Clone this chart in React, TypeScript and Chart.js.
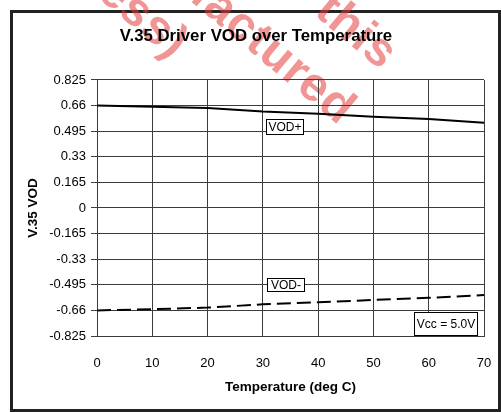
import React, { useEffect, useRef } from "react";
import { Chart, registerables } from "chart.js";

Chart.register(...registerables);

const temps = [0, 10, 20, 30, 40, 50, 60, 70];
const vodPlus = [0.66, 0.652, 0.645, 0.621, 0.607, 0.588, 0.573, 0.55];
const vodMinus = [-0.66, -0.652, -0.642, -0.621, -0.608, -0.593, -0.579, -0.561];
const yTicks = [0.825, 0.66, 0.495, 0.33, 0.165, 0, -0.165, -0.33, -0.495, -0.66, -0.825];
const xTicks = [0, 10, 20, 30, 40, 50, 60, 70];
const seriesNames = ["VOD+", "VOD-"];
const noteText = "Vcc = 5.0V";
const watermarkLines = ["Manufactured", "this", "(Process)"];

const FONT = "'Liberation Sans', Arial, Helvetica, sans-serif";
const GRID = "#3c3c3c";

const boxLabels = {
  id: "boxLabels",
  afterDatasetsDraw(chart: any) {
    const { ctx, scales } = chart;
    const xs = scales.x;
    const ys = scales.y;
    const items = [
      { text: seriesNames[0], x: 30.57, y: 0.5736, w: 37, h: 15 },
      { text: seriesNames[1], x: 30.75, y: -0.451, w: 37, h: 13 },
      { text: noteText, x: 57.33, y: -0.672, w: 63, h: 23 },
    ];
    ctx.save();
    ctx.font = `12px ${FONT}`;
    ctx.textBaseline = "middle";
    ctx.textAlign = "center";
    for (const it of items) {
      const left = Math.round(xs.getPixelForValue(it.x));
      const top = Math.round(ys.getPixelForValue(it.y));
      ctx.fillStyle = "#fff";
      ctx.fillRect(left, top, it.w, it.h);
      ctx.strokeStyle = "#000";
      ctx.lineWidth = 1;
      ctx.strokeRect(left + 0.5, top + 0.5, it.w, it.h);
      ctx.fillStyle = "#000";
      ctx.fillText(it.text, left + it.w / 2 + 0.5, top + it.h / 2 + 1);
    }
    ctx.restore();
  },
};

const watermark = {
  id: "watermark",
  beforeDraw(chart: any) {
    const { ctx } = chart;
    const ang = (40 * Math.PI) / 180;
    const anchors = [
      [348, 116],
      [390, 61],
      [181, 50],
    ];
    ctx.save();
    ctx.fillStyle = "rgba(228, 60, 60, 0.55)";
    ctx.font = `bold 48px ${FONT}`;
    try {
      (ctx as any).letterSpacing = "1px";
    } catch (e) {}
    ctx.textAlign = "right";
    ctx.textBaseline = "middle";
    watermarkLines.forEach((t, i) => {
      ctx.save();
      ctx.translate(anchors[i][0], anchors[i][1]);
      ctx.rotate(ang);
      ctx.fillText(t, 0, 0);
      ctx.restore();
    });
    try {
      (ctx as any).letterSpacing = "0px";
    } catch (e) {}
    ctx.restore();
  },
};

export default function App() {
  const ref = useRef<HTMLCanvasElement | null>(null);

  useEffect(() => {
    if (!ref.current) return;
    const chart = new Chart(ref.current, {
      type: "scatter",
      data: {
        datasets: [
          {
            label: seriesNames[0],
            data: temps.map((t, i) => ({ x: t, y: vodPlus[i] })),
            showLine: true,
            borderColor: "#000",
            borderWidth: 2,
            pointRadius: 0,
            tension: 0,
          },
          {
            label: seriesNames[1],
            data: temps.map((t, i) => ({ x: t, y: vodMinus[i] })),
            showLine: true,
            borderColor: "#000",
            borderWidth: 2,
            borderDash: [14, 6],
            pointRadius: 0,
            tension: 0,
          },
        ],
      },
      options: {
        animation: false,
        responsive: false,
        maintainAspectRatio: false,
        layout: { padding: { left: 19, top: 0, right: 8, bottom: 0 } },
        plugins: {
          legend: { display: false },
          tooltip: { enabled: false },
          title: {
            display: true,
            text: "V.35 Driver VOD over Temperature",
            color: "#000",
            font: { family: FONT, size: 16.8, weight: "bold" },
            padding: { top: 26, bottom: 33.8 },
          },
        },
        scales: {
          x: {
            type: "linear",
            min: 0,
            max: 70,
            afterBuildTicks: (s: any) => {
              s.ticks = xTicks.map((v) => ({ value: v }));
            },
            afterFit: (s: any) => {
              s.height = 76;
              s.paddingLeft = 0;
              s.paddingRight = 17;
            },
            ticks: {
              color: "#000",
              font: { family: FONT, size: 13 },
              padding: 19.5,
              maxRotation: 0,
              callback: (v: any) => String(v),
            },
            grid: { color: GRID, lineWidth: 1, drawTicks: false },
            border: { color: GRID, width: 1 },
            title: {
              display: true,
              text: "Temperature (deg C)",
              color: "#000",
              font: { family: FONT, size: 13.5, weight: "bold" },
              padding: { top: 0, bottom: 16.5 },
            },
          },
          y: {
            type: "linear",
            min: -0.825,
            max: 0.825,
            afterBuildTicks: (s: any) => {
              s.ticks = yTicks.map((v) => ({ value: v }));
            },
            afterFit: (s: any) => {
              s.width = 78;
            },
            ticks: {
              color: "#000",
              font: { family: FONT, size: 13 },
              padding: 5,
              callback: (v: any) => String(Math.round(Number(v) * 1000) / 1000),
            },
            grid: { color: GRID, lineWidth: 1, tickLength: 6, drawTicks: true },
            border: { color: GRID, width: 1 },
            title: {
              display: true,
              text: "V.35 VOD",
              color: "#000",
              font: { family: FONT, size: 13.5, weight: "bold" },
              padding: { top: 6, bottom: 0 },
            },
          },
        },
      },
      plugins: [boxLabels, watermark],
    } as any);
    return () => chart.destroy();
  }, []);

  return (
    <div
      style={{
        position: "fixed",
        left: 0,
        top: 0,
        width: 501,
        height: 412,
        background: "#fff",
        overflow: "hidden",
      }}
    >
      <div
        style={{
          position: "absolute",
          left: 10,
          top: 10,
          width: 491,
          height: 402,
          border: "3px solid #222",
          boxSizing: "border-box",
        }}
      />
      <canvas
        ref={ref}
        width={501}
        height={412}
        style={{ position: "absolute", left: 0, top: 0, width: 501, height: 412 }}
      />
    </div>
  );
}
